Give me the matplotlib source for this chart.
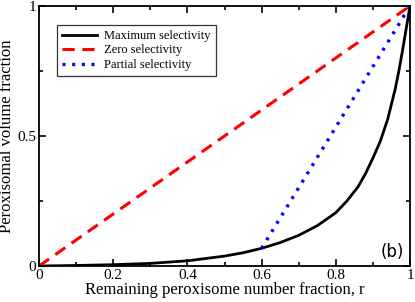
import matplotlib
matplotlib.use('Agg')
import matplotlib.pyplot as plt
from matplotlib.ticker import MultipleLocator

# maximum selectivity curve
r_max = [0, 0.1, 0.2, 0.3, 0.4, 0.5, 0.55, 0.6, 0.65, 0.7, 0.75, 0.8, 0.83, 0.86, 0.88,
         0.9, 0.92, 0.94, 0.96, 0.97, 0.98, 0.99, 1.0]
v_max = [0, 0.002, 0.005, 0.010, 0.020, 0.038, 0.051, 0.068, 0.090, 0.118, 0.155, 0.205,
         0.25, 0.305, 0.355, 0.415, 0.48, 0.565, 0.68, 0.75, 0.83, 0.915, 1.0]

r_zero = [0, 1]
v_zero = [0, 1]

r_part = [0.6, 1]
v_part = [0.068, 1]

xticks = [0, 0.2, 0.4, 0.6, 0.8, 1]
xticklabels = ['0', '0.2', '0.4', '0.6', '0.8', '1']
yticks = [0, 0.5, 1]
yticklabels = ['0', '0.5', '1']

plt.rcParams['font.family'] = 'Liberation Serif'

fig = plt.figure(figsize=(4.15, 3.02), dpi=100)
ax = fig.add_axes([39 / 415, 1 - 266 / 302, 371 / 415, 260 / 302])

ax.plot(r_max, v_max, color='black', lw=2.0, label='Maximum selectivity')
ax.plot(r_zero, v_zero, color='red', lw=2.2, dashes=(4, 2.5), label='Zero selectivity')
ax.plot(r_part, v_part, color='blue', lw=2.4, linestyle=(0, (0.9, 2.0)),
        dash_capstyle='butt', label='Partial selectivity')

ax.set_xlim(0, 1)
ax.set_ylim(0, 1)
ax.set_xticks(xticks)
ax.set_xticklabels(xticklabels)
ax.set_yticks(yticks)
ax.set_yticklabels(yticklabels)
ax.xaxis.set_minor_locator(MultipleLocator(0.1))
ax.yaxis.set_minor_locator(MultipleLocator(0.25))
ax.tick_params(which='both', direction='in', top=True, right=True, labelsize=11, width=1.2)
ax.tick_params(which='major', length=5, pad=2)
ax.tick_params(which='minor', length=3)
for s in ax.spines.values():
    s.set_linewidth(1.3)

ax.set_xlabel('Remaining peroxisome number fraction, r', fontsize=12, labelpad=0)
ax.set_ylabel('Peroxisomal volume fraction', fontsize=12)
ax.yaxis.set_label_coords(-0.066, 0.5)

leg = ax.legend(loc='upper left', bbox_to_anchor=(0.048, 0.927), borderaxespad=0,
                fontsize=9, frameon=True, fancybox=False, edgecolor='black',
                handlelength=2.8, borderpad=0.4, labelspacing=0.2, handletextpad=0.6)
leg.get_frame().set_linewidth(0.9)

ax.text(0.985, 0.018, '(b)', transform=ax.transAxes, ha='right', va='bottom',
        fontsize=12, family='DejaVu Sans')

fig.savefig('out.png', dpi=100)
